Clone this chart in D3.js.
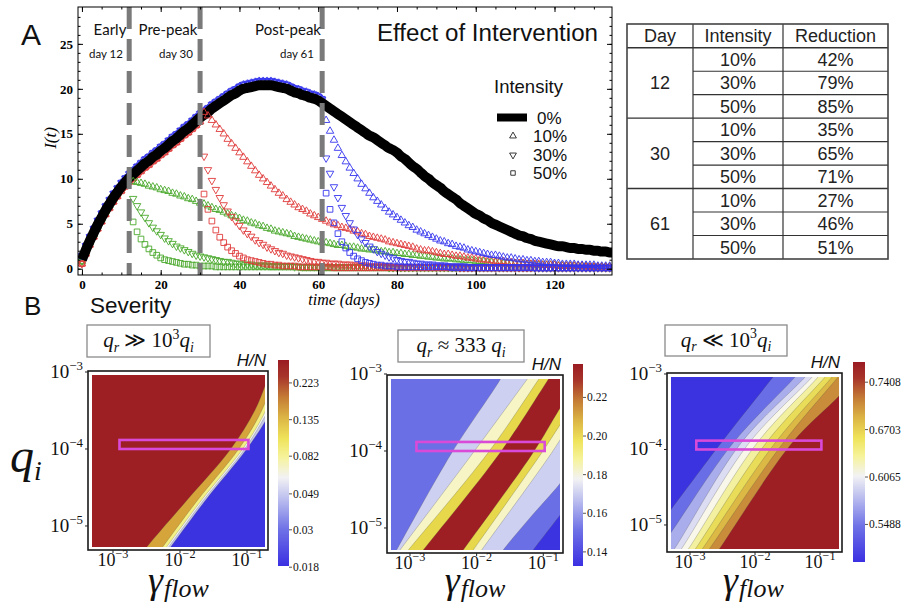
<!DOCTYPE html>
<html>
<head>
<meta charset="utf-8">
<script src="https://cdn.jsdelivr.net/npm/d3@7/dist/d3.min.js"></script>
<style>html,body{margin:0;padding:0;background:#fff;}svg{display:block;}</style>
</head>
<body>
<svg id="chart" width="907" height="603" xmlns="http://www.w3.org/2000/svg"></svg>
<script>
// ================= PANEL A DATA =================
// I(t) without intervention, days 0..135
const baseI = [
 1.0,2.1,3.1,4.0,4.9,5.7,6.5,7.2,7.9,8.5,
 9.1,9.6,10.1,10.5,10.9,11.3,11.7,12.0,12.4,12.7,
 13.1,13.4,13.8,14.2,14.5,14.9,15.3,15.6,16.0,16.4,
 16.8,17.1,17.4,17.8,18.1,18.4,18.7,19.0,19.3,19.5,
 19.8,20.0,20.1,20.2,20.3,20.4,20.4,20.4,20.4,20.3,
 20.2,20.1,20.0,19.8,19.6,19.5,19.3,19.2,19.0,18.9,
 18.7,18.4,18.1,17.8,17.5,17.2,16.9,16.6,16.3,16.0,
 15.7,15.4,15.1,14.8,14.6,14.3,14.0,13.7,13.4,13.2,
 12.9,12.5,12.2,11.8,11.4,11.1,10.7,10.3,10.0,9.6,
 9.3,9.0,8.6,8.3,8.0,7.7,7.3,7.0,6.7,6.4,
 6.1,5.9,5.6,5.4,5.1,4.9,4.7,4.5,4.3,4.1,
 3.9,3.7,3.6,3.4,3.3,3.1,3.0,2.9,2.8,2.7,
 2.6,2.5,2.5,2.4,2.3,2.3,2.2,2.2,2.1,2.1,
 2.0,2.0,1.9,1.9,1.8,1.8];
const interventionDays = [12, 30, 61];
const intensityLabels = ["10%", "30%", "50%"];
// intervention on day 12, values from day 13 to 135
const day12_10 = [
 9.7,9.6,9.5,9.4,9.2,9.1,9.0,8.8,8.7,8.6,
 8.4,8.3,8.1,8.0,7.8,7.7,7.5,7.3,7.2,7.0,
 6.8,6.6,6.5,6.3,6.1,5.9,5.8,5.6,5.4,5.3,
 5.1,5.0,4.8,4.7,4.5,4.4,4.2,4.1,4.0,3.9,
 3.8,3.6,3.5,3.4,3.3,3.2,3.1,3.0,2.9,2.9,
 2.8,2.7,2.6,2.6,2.5,2.4,2.4,2.3,2.2,2.2,
 2.1,2.1,2.0,1.9,1.9,1.8,1.8,1.7,1.7,1.6,
 1.6,1.5,1.5,1.4,1.4,1.3,1.3,1.2,1.2,1.1,
 1.1,1.1,1.0,1.0,0.9,0.9,0.9,0.8,0.8,0.8,
 0.7,0.7,0.7,0.7,0.6,0.6,0.6,0.6,0.5,0.5,
 0.5,0.5,0.4,0.4,0.4,0.4,0.4,0.4,0.3,0.3,
 0.3,0.3,0.3,0.3,0.3,0.3,0.2,0.2,0.2,0.2,0.2,0.2,0.2];
const day12_30 = [
 7.8,7.0,6.3,5.7,5.1,4.6,4.2,3.8,3.4,3.1,
 2.8,2.5,2.3,2.1,1.9,1.7,1.5,1.4,1.3,1.2,
 1.1,1.0,0.9,0.8,0.8,0.7,0.6,0.6,0.5,0.5,
 0.5,0.4,0.4,0.4,0.4,0.3,0.3,0.3,0.3,0.3,
 0.3,0.2,0.2,0.2,0.2,0.2,0.2,0.2,0.2,0.2,
 0.2,0.2,0.2,0.2,0.2,0.2,0.2,0.2,0.2,0.2,
 0.2,0.2,0.2,0.2,0.2,0.1,0.1,0.1,0.1,0.1,
 0.1,0.1,0.1,0.1,0.1,0.1,0.1,0.1,0.1,0.1,
 0.1,0.1,0.1,0.1,0.1,0.1,0.1,0.1,0.1,0.1,
 0.1,0.1,0.1,0.1,0.1,0.1,0.1,0.1,0.1,0.1,
 0.1,0.1,0.1,0.1,0.1,0.1,0.1,0.1,0.1,0.1,
 0.1,0.1,0.1,0.1,0.1,0.1,0.1,0.1,0.1,0.1,
 0.1,0.1,0.1];
const day12_50 = [
 5.2,4.1,3.3,2.7,2.2,1.8,1.5,1.2,1.0,0.9,
 0.8,0.7,0.6,0.5,0.5,0.4,0.4,0.3,0.3,0.3,
 0.3,0.2,0.2,0.2,0.2,0.2,0.2,0.2,0.2,0.2,
 0.2,0.2,0.2,0.2,0.2,0.2,0.2,0.2,0.2,0.2,
 0.2,0.2,0.2,0.1,0.1,0.1,0.1,0.1,0.1,0.1,
 0.1,0.1,0.1,0.1,0.1,0.1,0.1,0.1,0.1,0.1,
 0.1,0.1,0.1,0.1,0.1,0.1,0.1,0.1,0.1,0.1,
 0.1,0.1,0.1,0.1,0.1,0.1,0.1,0.1,0.1,0.1,
 0.1,0.1,0.1,0.1,0.1,0.1,0.1,0.1,0.1,0.1,
 0.1,0.1,0.1,0.1,0.1,0.1,0.1,0.1,0.1,0.1,
 0.1,0.1,0.1,0.1,0.1,0.1,0.1,0.1,0.1,0.1,
 0.1,0.1,0.1,0.1,0.1,0.1,0.1,0.1,0.1,0.1,
 0.1,0.1,0.1];
// intervention on day 30, values from day 31 to 135
const day30_10 = [
 17.4,17.0,16.5,16.0,15.5,15.0,14.4,13.9,13.4,12.9,
 12.4,11.9,11.4,10.9,10.4,10.0,9.6,9.2,8.8,8.4,
 8.1,7.7,7.4,7.1,6.8,6.6,6.4,6.1,5.9,5.7,
 5.5,5.3,5.1,4.9,4.8,4.6,4.5,4.4,4.2,4.1,
 3.9,3.8,3.6,3.5,3.4,3.3,3.2,3.0,2.9,2.8,
 2.7,2.6,2.5,2.4,2.2,2.1,2.0,2.0,1.9,1.8,
 1.7,1.6,1.6,1.5,1.4,1.4,1.3,1.2,1.2,1.1,
 1.0,1.0,0.9,0.9,0.8,0.8,0.8,0.7,0.7,0.6,
 0.6,0.6,0.5,0.5,0.5,0.5,0.4,0.4,0.4,0.4,
 0.3,0.3,0.3,0.3,0.3,0.3,0.3,0.2,0.2,0.2,
 0.2,0.2,0.2,0.2,0.2];
const day30_30 = [
 12.5,11.0,9.8,8.8,7.9,7.1,6.4,5.8,5.3,4.8,
 4.3,3.9,3.6,3.2,2.9,2.7,2.4,2.2,2.0,1.8,
 1.7,1.5,1.4,1.3,1.2,1.1,1.0,0.9,0.8,0.8,
 0.7,0.7,0.6,0.6,0.6,0.5,0.5,0.5,0.4,0.4,
 0.4,0.4,0.3,0.3,0.3,0.3,0.3,0.3,0.2,0.2,
 0.2,0.2,0.2,0.2,0.2,0.2,0.2,0.2,0.2,0.2,
 0.2,0.2,0.2,0.2,0.2,0.1,0.1,0.1,0.1,0.1,
 0.1,0.1,0.1,0.1,0.1,0.1,0.1,0.1,0.1,0.1,
 0.1,0.1,0.1,0.1,0.1,0.1,0.1,0.1,0.1,0.1,
 0.1,0.1,0.1,0.1,0.1,0.1,0.1,0.1,0.1,0.1,
 0.1,0.1,0.1,0.1,0.1];
const day30_50 = [
 8.3,6.6,5.3,4.3,3.5,2.9,2.4,2.0,1.7,1.4,
 1.2,1.0,0.9,0.8,0.7,0.6,0.5,0.5,0.4,0.4,
 0.3,0.3,0.3,0.3,0.2,0.2,0.2,0.2,0.2,0.2,
 0.2,0.2,0.2,0.1,0.1,0.1,0.1,0.1,0.1,0.1,
 0.1,0.1,0.1,0.1,0.1,0.1,0.1,0.1,0.1,0.1,
 0.1,0.1,0.1,0.1,0.1,0.1,0.1,0.1,0.1,0.1,
 0.1,0.1,0.1,0.1,0.1,0.1,0.1,0.1,0.1,0.1,
 0.1,0.1,0.1,0.1,0.1,0.1,0.1,0.1,0.1,0.1,
 0.1,0.1,0.1,0.1,0.1,0.1,0.1,0.1,0.1,0.1,
 0.1,0.1,0.1,0.1,0.1,0.1,0.1,0.1,0.1,0.1,
 0.1,0.1,0.1,0.1,0.1];
// intervention on day 61, values from day 62 to 135
const day61_10 = [
 16.5,15.3,14.3,13.4,12.6,11.9,11.2,10.6,10.0,9.4,
 8.9,8.4,7.9,7.5,7.1,6.7,6.3,6.0,5.7,5.4,
 5.1,4.8,4.6,4.3,4.1,3.9,3.7,3.5,3.3,3.1,
 3.0,2.8,2.7,2.5,2.4,2.3,2.1,2.0,1.9,1.8,
 1.7,1.6,1.5,1.5,1.4,1.3,1.2,1.2,1.1,1.0,
 1.0,0.9,0.9,0.8,0.8,0.7,0.7,0.7,0.6,0.6,
 0.5,0.5,0.5,0.5,0.4,0.4,0.4,0.4,0.4,0.3,
 0.3,0.3,0.3,0.3];
const day61_30 = [
 12.3,10.6,9.1,7.9,6.8,5.9,5.1,4.4,3.8,3.3,
 2.9,2.5,2.2,1.9,1.7,1.5,1.3,1.2,1.0,0.9,
 0.8,0.8,0.7,0.6,0.6,0.5,0.5,0.5,0.4,0.4,
 0.4,0.3,0.3,0.3,0.3,0.3,0.2,0.2,0.2,0.2,
 0.2,0.2,0.2,0.2,0.2,0.2,0.2,0.2,0.2,0.2,
 0.2,0.2,0.2,0.1,0.1,0.1,0.1,0.1,0.1,0.1,
 0.1,0.1,0.1,0.1,0.1,0.1,0.1,0.1,0.1,0.1,
 0.1,0.1,0.1,0.1];
const day61_50 = [
 8.4,6.6,5.1,3.9,3.0,2.3,1.8,1.4,1.1,0.9,
 0.7,0.6,0.5,0.4,0.4,0.3,0.3,0.3,0.2,0.2,
 0.2,0.2,0.2,0.2,0.2,0.2,0.2,0.2,0.2,0.2,
 0.2,0.2,0.1,0.1,0.1,0.1,0.1,0.1,0.1,0.1,
 0.1,0.1,0.1,0.1,0.1,0.1,0.1,0.1,0.1,0.1,
 0.1,0.1,0.1,0.1,0.1,0.1,0.1,0.1,0.1,0.1,
 0.1,0.1,0.1,0.1,0.1,0.1,0.1,0.1,0.1,0.1,
 0.1,0.1,0.1,0.1];
const phaseLabels = ["Early", "Pre-peak", "Post-peak"];
const phaseDayLabels = ["day 12", "day 30", "day 61"];
const xTicksA = [0, 20, 40, 60, 80, 100, 120];
const yTicksA = [0, 5, 10, 15, 20, 25];
const titleA = "Effect of Intervention";
const legendTitle = "Intensity";
const legendLabels = ["0%", "10%", "30%", "50%"];

// ================= TABLE DATA =================
const tableHeader = ["Day", "Intensity", "Reduction"];
const tableDays = ["12", "30", "61"];
const tableIntensity = ["10%", "30%", "50%"];
const tableReduction = [["42%", "79%", "85%"], ["35%", "65%", "71%"], ["27%", "46%", "51%"]];

// ================= PANEL B DATA =================
const gammaTicks = [1e-3, 1e-2, 1e-1];
const qTicks = [1e-3, 1e-4, 1e-5];
const tickExps = {"0.001": "\u22123", "0.01": "\u22122", "0.1": "\u22121", "0.0001": "\u22124", "0.00001": "\u22125"};
const boxLabels = [
 [{t: "q", it: 1}, {t: "r", it: 1, sub: 1}, {t: " \u226B 10"}, {t: "3", sup: 1}, {t: "q", it: 1}, {t: "i", it: 1, sub: 1}],
 [{t: "q", it: 1}, {t: "r", it: 1, sub: 1}, {t: " \u2248 333 "}, {t: "q", it: 1}, {t: "i", it: 1, sub: 1}],
 [{t: "q", it: 1}, {t: "r", it: 1, sub: 1}, {t: " \u226A 10"}, {t: "3", sup: 1}, {t: "q", it: 1}, {t: "i", it: 1, sub: 1}]
];
// contour boundaries as [log10(gamma_flow), log10(q_i)], ordered from upper-left band to lower-right band
const contours1 = [
 [[-2.60,-5.40],[-2.507,-5.286],[-1.894,-4.662],[-1.254,-4.013],[-0.881,-3.494],[-0.687,-3.078],[-0.62,-2.93]],
 [[-2.313,-5.338],[-1.735,-4.662],[-1.134,-4.013],[-0.836,-3.597],[-0.701,-3.338],[-0.627,-3.169]],
 [[-2.254,-5.338],[-1.676,-4.662],[-1.075,-4.013],[-0.776,-3.597],[-0.657,-3.364],[-0.582,-3.208]],
 [[-2.224,-5.338],[-1.646,-4.662],[-1.045,-4.013],[-0.746,-3.597],[-0.627,-3.390],[-0.552,-3.234]],
 [[-2.194,-5.338],[-1.616,-4.662],[-1.015,-4.013],[-0.716,-3.623],[-0.597,-3.416],[-0.507,-3.260]]
];
const contours2 = [
 [[-3.300,-5.442],[-2.375,-4.026],[-1.651,-3.078],[-1.576,-2.948]],
 [[-3.319,-5.481],[-3.150,-5.286],[-2.055,-4.026],[-1.250,-3.078],[-1.118,-2.922]],
 [[-3.210,-5.481],[-3.025,-5.286],[-1.831,-4.026],[-1.076,-3.078],[-0.952,-2.922]],
 [[-2.979,-5.481],[-2.801,-5.286],[-1.651,-4.026],[-0.931,-3.078],[-0.813,-2.922]],
 [[-2.363,-5.481],[-2.201,-5.286],[-1.156,-4.026],[-0.766,-3.468],[-0.601,-3.234]],
 [[-2.210,-5.481],[-2.051,-5.286],[-1.025,-4.026],[-0.766,-3.684],[-0.601,-3.468]],
 [[-2.087,-5.481],[-1.925,-5.286],[-0.876,-4.026],[-0.601,-3.649]],
 [[-1.726,-5.442],[-1.601,-5.286],[-1.201,-4.870],[-0.766,-4.442],[-0.601,-4.247]],
 [[-1.276,-5.442],[-1.151,-5.286],[-0.766,-4.853],[-0.601,-4.675]]
];
const contours3 = [
 [[-3.462,-4.987],[-3.297,-4.801],[-2.523,-3.914],[-1.723,-3.040],[-1.615,-2.921]],
 [[-3.462,-5.305],[-3.297,-5.106],[-2.338,-3.914],[-1.385,-3.040],[-1.277,-2.921]],
 [[-3.385,-5.490],[-3.231,-5.305],[-2.215,-3.914],[-1.231,-3.040],[-1.123,-2.921]],
 [[-3.277,-5.490],[-3.123,-5.305],[-2.092,-3.914],[-1.123,-3.040],[-1.015,-2.921]],
 [[-3.169,-5.490],[-3.015,-5.305],[-1.969,-3.914],[-1.031,-3.040],[-0.923,-2.921]],
 [[-3.062,-5.490],[-2.908,-5.305],[-1.831,-3.914],[-0.923,-3.040],[-0.815,-2.921]],
 [[-2.954,-5.490],[-2.800,-5.305],[-1.692,-3.914],[-0.815,-3.040],[-0.708,-2.921]],
 [[-2.846,-5.490],[-2.692,-5.305],[-1.569,-3.914],[-0.723,-3.040],[-0.615,-2.921]],
 [[-2.692,-5.490],[-2.538,-5.305],[-1.431,-3.914],[-0.692,-3.278],[-0.508,-3.079]]
];
const highlightGamma = [1.25e-3, 0.105];
const highlightQ = [1.0e-4, 1.31e-4];
const cb1Ticks = [0.018, 0.03, 0.049, 0.082, 0.135, 0.223];
const cb1Labels = ["0.018", "0.03", "0.049", "0.082", "0.135", "0.223"];
const cb1Range = [0.0183, 0.305];
const cb2Ticks = [0.14, 0.16, 0.18, 0.20, 0.22];
const cb2Labels = ["0.14", "0.16", "0.18", "0.20", "0.22"];
const cb2Range = [0.1327, 0.2373];
const cb3Ticks = [0.5488, 0.6065, 0.6703, 0.7408];
const cb3Labels = ["0.5488", "0.6065", "0.6703", "0.7408"];
const cb3Range = [0.507, 0.773];

// ================= STYLES =================
const SANS = "'Liberation Sans', Arial, Helvetica, sans-serif";
const SERIF = "'Liberation Serif', 'Times New Roman', 'DejaVu Serif', serif";
const CAL = "Lato, 'Open Sans', sans-serif";
const dayColors = ["#48a82a", "#e03a3a", "#3636ee"];
const preOffset = [1.5, 4, -4];
const bandColors1 = ["#9d1e23", "#d5a43b", "#f4f184", "#f3f3f3", "#c3c6ea", "#3b33e0"];
const bandColors2 = ["#6b6fe5", "#cdd0f0", "#f7f5c6", "#e6d84a", "#9d1e23", "#e6d84a", "#f7f5c6", "#cdd0f0", "#6b6fe5", "#3b33e0"];
const bandColors3 = ["#3b33e0", "#6a6ee6", "#a9adec", "#dcdcf3", "#f8f7ea", "#f3f1a0", "#e8dc58", "#dcb845", "#c98c3a", "#9d1e23"];
const cmapStops = [[0, "#3b30e2"], [0.18, "#6f72e6"], [0.32, "#b9bcee"], [0.43, "#f2f2f4"], [0.53, "#f6f39a"], [0.62, "#efe35a"], [0.72, "#dcb545"], [0.82, "#c47b35"], [0.92, "#a7342a"], [1, "#9a1c22"]];

const svg = d3.select("#chart");
svg.append("rect").attr("width", 907).attr("height", 603).attr("fill", "#fff");
const defs = svg.append("defs");

// ---------- math text helper ----------
function mathText(g, x, y, parts, size, anchor, opt) {
  opt = opt || {};
  const subScale = opt.subScale || 0.66, subShift = opt.subShift || 0.25, supShift = opt.supShift || 0.42;
  const t = g.append("text").attr("x", x).attr("y", y).attr("text-anchor", anchor || "start")
    .attr("font-family", opt.family || SERIF).attr("font-size", size).attr("fill", opt.fill || "#111");
  let cur = 0;
  parts.forEach(p => {
    const target = p.sub ? subShift * size : (p.sup ? -supShift * size : 0);
    const ts = t.append("tspan").text(p.t).attr("dy", target - cur)
      .attr("font-size", (p.sub || p.sup) ? size * subScale : size);
    if (p.it) ts.attr("font-style", "italic");
    cur = target;
  });
  return t;
}

// ================= PANEL A =================
const A = {x0: 78, x1: 612, y0: 7, y1: 275};
const xA = d3.scaleLinear().domain([-1, 134.6]).range([A.x0, A.x1]);
const yA = d3.scaleLinear().domain([-0.7, 29.1]).range([A.y1, A.y0]);
defs.append("clipPath").attr("id", "clipA").append("rect")
  .attr("x", A.x0).attr("y", A.y0).attr("width", A.x1 - A.x0).attr("height", A.y1 - A.y0);
const gA = svg.append("g");
const plotA = gA.append("g").attr("clip-path", "url(#clipA)");

const symTypes = [d3.symbolTriangle, d3.symbolTriangle, d3.symbolSquare];
const symSizes = [24, 24, 32];
const symRot = [0, 180, 0];
const postSeries = [[day12_10, day12_30, day12_50], [day30_10, day30_30, day30_50], [day61_10, day61_30, day61_50]];

function drawMarkers(g, pts, level, color, dy) {
  g.append("g").selectAll("path").data(pts).join("path")
    .attr("d", d3.symbol(symTypes[level], symSizes[level]))
    .attr("transform", d => `translate(${xA(d[0])},${yA(d[1]) + dy}) rotate(${symRot[level]})`)
    .attr("fill", "none").attr("stroke", color).attr("stroke-width", 0.9);
}
interventionDays.forEach((d0, i) => {
  const pre = baseI.slice(0, d0 + 1).map((v, k) => [k, v]);
  [0, 1, 2].forEach(l => drawMarkers(plotA, pre, l, dayColors[i], preOffset[i]));
});
plotA.append("path").datum(baseI.map((v, k) => [k, v]))
  .attr("d", d3.line().x(d => xA(d[0])).y(d => yA(d[1])).curve(d3.curveMonotoneX))
  .attr("fill", "none").attr("stroke", "#000").attr("stroke-width", 10).attr("stroke-linejoin", "round");
interventionDays.forEach((d0, i) => {
  postSeries[i].forEach((vals, l) => {
    drawMarkers(plotA, vals.map((v, k) => [d0 + 1 + k, v]), l, dayColors[i], 0);
  });
});
plotA.selectAll("line.dash").data(interventionDays).join("line").attr("class", "dash")
  .attr("x1", d => xA(d)).attr("x2", d => xA(d)).attr("y1", A.y0).attr("y2", A.y1)
  .attr("stroke", "#7a7a7a").attr("stroke-width", 5).attr("stroke-dasharray", "22 10");

gA.append("rect").attr("x", A.x0).attr("y", A.y0).attr("width", A.x1 - A.x0).attr("height", A.y1 - A.y0)
  .attr("fill", "none").attr("stroke", "#000").attr("stroke-width", 1);
function styleAx(g) {
  g.select(".domain").remove();
  g.selectAll("line").attr("stroke", "#000");
  g.selectAll("text").attr("font-family", SERIF).attr("font-size", 13).attr("fill", "#000").attr("font-weight", "bold");
}
gA.append("g").attr("transform", `translate(0,${A.y1})`)
  .call(d3.axisBottom(xA).tickValues(xTicksA).tickSize(-5).tickPadding(5)).call(styleAx);
gA.append("g").attr("transform", `translate(0,${A.y1})`)
  .call(d3.axisBottom(xA).tickValues(d3.range(0, 135, 5)).tickSize(-2.5).tickFormat("")).call(styleAx);
gA.append("g").attr("transform", `translate(0,${A.y0})`)
  .call(d3.axisTop(xA).tickValues(xTicksA).tickSize(-5).tickFormat("")).call(styleAx);
gA.append("g").attr("transform", `translate(0,${A.y0})`)
  .call(d3.axisTop(xA).tickValues(d3.range(0, 135, 5)).tickSize(-2.5).tickFormat("")).call(styleAx);
gA.append("g").attr("transform", `translate(${A.x0},0)`)
  .call(d3.axisLeft(yA).tickValues(yTicksA).tickSize(-5).tickPadding(5)).call(styleAx);
gA.append("g").attr("transform", `translate(${A.x0},0)`)
  .call(d3.axisLeft(yA).tickValues(d3.range(0, 29, 1)).tickSize(-2.5).tickFormat("")).call(styleAx);
gA.append("g").attr("transform", `translate(${A.x1},0)`)
  .call(d3.axisRight(yA).tickValues(yTicksA).tickSize(-5).tickFormat("")).call(styleAx);
gA.append("g").attr("transform", `translate(${A.x1},0)`)
  .call(d3.axisRight(yA).tickValues(d3.range(0, 29, 1)).tickSize(-2.5).tickFormat("")).call(styleAx);

gA.append("text").attr("transform", "translate(56,138) rotate(-90)").attr("text-anchor", "middle")
  .attr("font-family", SERIF).attr("font-style", "italic").attr("font-size", 17).text("I(t)");
gA.append("text").attr("x", 344).attr("y", 305).attr("text-anchor", "middle")
  .attr("font-family", SERIF).attr("font-style", "italic").attr("font-size", 16).text("time (days)");

const phaseX = [110, 168, 288];
const phaseDayX = [106, 176, 297];
gA.selectAll("text.ph").data(phaseLabels).join("text").attr("class", "ph")
  .attr("x", (d, i) => phaseX[i]).attr("y", 35).attr("text-anchor", "middle")
  .attr("font-family", CAL).attr("font-size", 15).attr("fill", "#111").text(d => d);
gA.selectAll("text.pd").data(phaseDayLabels).join("text").attr("class", "pd")
  .attr("x", (d, i) => phaseDayX[i]).attr("y", 58).attr("text-anchor", "middle")
  .attr("font-family", CAL).attr("font-size", 11.5).attr("fill", "#111").text(d => d);
gA.append("text").attr("x", 377).attr("y", 41).attr("font-family", SANS).attr("font-size", 23)
  .attr("textLength", 221).attr("lengthAdjust", "spacingAndGlyphs").attr("fill", "#111").text(titleA);
gA.append("text").attr("x", 494).attr("y", 93).attr("font-family", SANS).attr("font-size", 18.5)
  .attr("fill", "#111").text(legendTitle);
gA.append("line").attr("x1", 497).attr("x2", 527).attr("y1", 117.5).attr("y2", 117.5)
  .attr("stroke", "#000").attr("stroke-width", 8);
const legY = [117.5, 136, 155, 173];
[0, 1, 2].forEach(l => {
  gA.append("path").attr("d", d3.symbol(symTypes[l], 20)())
    .attr("transform", `translate(513,${legY[l + 1]}) rotate(${symRot[l]})`)
    .attr("fill", "none").attr("stroke", "#222").attr("stroke-width", 0.9);
});
gA.selectAll("text.lg").data(legendLabels).join("text").attr("class", "lg")
  .attr("x", (d, i) => i === 0 ? 537 : 533).attr("y", (d, i) => legY[i] + 6)
  .attr("font-family", SANS).attr("font-size", 17).attr("fill", "#111").text(d => d);

svg.append("text").attr("x", 21).attr("y", 45).attr("font-family", SANS).attr("font-size", 30).attr("fill", "#111").text("A");
svg.append("text").attr("x", 24).attr("y", 315).attr("font-family", SANS).attr("font-size", 26).attr("fill", "#111").text("B");
svg.append("text").attr("x", 90).attr("y", 313).attr("font-family", SANS).attr("font-size", 22.5).attr("fill", "#111").text("Severity");

// ================= TABLE =================
const T = {cols: [627, 693, 783, 888], y0: 24, yH: 47.7, y1: 259};
const rowH = (T.y1 - T.yH) / 9;
const gT = svg.append("g");
const colMid = i => (T.cols[i] + T.cols[i + 1]) / 2;
gT.selectAll("text.h").data(tableHeader).join("text").attr("class", "h")
  .attr("x", (d, i) => colMid(i)).attr("y", T.yH - 5.5).attr("text-anchor", "middle")
  .attr("font-family", SANS).attr("font-size", 18).attr("fill", "#222").text(d => d);
tableDays.forEach((day, gi) => {
  gT.append("text").attr("x", colMid(0)).attr("y", T.yH + (gi * 3 + 1.5) * rowH + 6.5).attr("text-anchor", "middle")
    .attr("font-family", SANS).attr("font-size", 18).attr("fill", "#222").text(day);
  tableIntensity.forEach((it, ri) => {
    const yy = T.yH + (gi * 3 + ri + 0.5) * rowH + 6.5;
    gT.append("text").attr("x", colMid(1)).attr("y", yy).attr("text-anchor", "middle")
      .attr("font-family", SANS).attr("font-size", 18).attr("fill", "#222").text(it);
    gT.append("text").attr("x", colMid(2)).attr("y", yy).attr("text-anchor", "middle")
      .attr("font-family", SANS).attr("font-size", 18).attr("fill", "#222").text(tableReduction[gi][ri]);
  });
});
for (let r = 1; r < 9; r++) {
  const yy = T.yH + r * rowH;
  const full = r % 3 === 0;
  gT.append("line").attr("x1", full ? T.cols[0] : T.cols[1]).attr("x2", T.cols[3]).attr("y1", yy).attr("y2", yy)
    .attr("stroke", "#333").attr("stroke-width", full ? 1.4 : 1.1);
}
gT.append("line").attr("x1", T.cols[0]).attr("x2", T.cols[3]).attr("y1", T.yH).attr("y2", T.yH).attr("stroke", "#333").attr("stroke-width", 1.4);
[1, 2].forEach(c => gT.append("line").attr("x1", T.cols[c]).attr("x2", T.cols[c]).attr("y1", T.y0).attr("y2", T.y1).attr("stroke", "#333").attr("stroke-width", 1.2));
gT.append("rect").attr("x", T.cols[0]).attr("y", T.y0).attr("width", T.cols[3] - T.cols[0]).attr("height", T.y1 - T.y0)
  .attr("fill", "none").attr("stroke", "#444").attr("stroke-width", 1.6);

// ================= PANEL B =================
const grad = (id) => {
  const lg = defs.append("linearGradient").attr("id", id).attr("x1", 0).attr("y1", 1).attr("x2", 0).attr("y2", 0);
  cmapStops.forEach(s => lg.append("stop").attr("offset", s[0]).attr("stop-color", s[1]));
};
const panels = [
  {frame: [88, 371, 268, 550], gExp: [-3.373, -0.687], qExp: [-5.312, -2.987], contours: contours1, colors: bandColors1,
   box: [87, 325, 123, 32], cb: {x0: 278, x1: 289, y0: 360, y1: 566, log: true, range: cb1Range, ticks: cb1Ticks, labels: cb1Labels}},
  {frame: [387, 375, 563, 553], gExp: [-3.345, -0.704], qExp: [-5.325, -3.013], contours: contours2, colors: bandColors2,
   box: [398, 330, 126, 32], cb: {x0: 573, x1: 583, y0: 364, y1: 566, log: false, range: cb2Range, ticks: cb2Ticks, labels: cb2Labels}},
  {frame: [667, 373, 842, 552], gExp: [-3.354, -0.662], qExp: [-5.358, -2.987], contours: contours3, colors: bandColors3,
   box: [665, 325, 122, 31], cb: {x0: 853, x1: 865, y0: 362, y1: 562, log: true, range: cb3Range, ticks: cb3Ticks, labels: cb3Labels}}
];

panels.forEach((P, pi) => {
  const [fx0, fy0, fx1, fy1] = P.frame;
  const xs = d3.scaleLog().domain([10 ** P.gExp[0], 10 ** P.gExp[1]]).range([fx0, fx1]);
  const ys = d3.scaleLog().domain([10 ** P.qExp[0], 10 ** P.qExp[1]]).range([fy1, fy0]);
  const g = svg.append("g");
  const ix0 = fx0 + 4, iy0 = fy0 + 4, ix1 = fx1 - 3, iy1 = fy1 - 3;
  defs.append("clipPath").attr("id", "clipB" + pi).append("rect")
    .attr("x", ix0).attr("y", iy0).attr("width", ix1 - ix0).attr("height", iy1 - iy0);
  const plot = g.append("g").attr("clip-path", `url(#clipB${pi})`);
  plot.append("rect").attr("x", ix0).attr("y", iy0).attr("width", ix1 - ix0).attr("height", iy1 - iy0).attr("fill", P.colors[0]);
  const line = d3.line().x(d => xs(10 ** d[0])).y(d => ys(10 ** d[1])).curve(d3.curveCatmullRom.alpha(0.5));
  P.contours.forEach((c, k) => {
    const first = c[0], last = c[c.length - 1];
    const fxp = xs(10 ** first[0]), lyp = ys(10 ** last[1]);
    const far = 400;
    const d = line(c) + `L${ix1 + far},${lyp}L${ix1 + far},${iy1 + far}L${fxp},${iy1 + far}Z`;
    plot.append("path").attr("d", d).attr("fill", P.colors[k + 1]);
  });
  P.contours.forEach(c => {
    plot.append("path").attr("d", line(c)).attr("fill", "none").attr("stroke", "rgba(70,70,70,0.35)").attr("stroke-width", 0.7);
  });
  g.append("rect").attr("x", xs(highlightGamma[0])).attr("y", ys(highlightQ[1]))
    .attr("width", xs(highlightGamma[1]) - xs(highlightGamma[0])).attr("height", ys(highlightQ[0]) - ys(highlightQ[1]))
    .attr("fill", "none").attr("stroke", "#d94ad9").attr("stroke-width", 2.6);
  g.append("rect").attr("x", fx0).attr("y", fy0).attr("width", fx1 - fx0).attr("height", fy1 - fy0)
    .attr("fill", "none").attr("stroke", "#1a1a1a").attr("stroke-width", 1.6);
  gammaTicks.forEach(v => {
    g.append("line").attr("x1", xs(v)).attr("x2", xs(v)).attr("y1", fy1).attr("y2", fy1 + 3).attr("stroke", "#222");
    mathText(g, xs(v), fy1 + 16, [{t: "10"}, {t: tickExps[String(v)], sup: 1}], 18, "middle", {subScale: 0.68});
  });
  qTicks.forEach(v => {
    g.append("line").attr("x1", fx0 - 3).attr("x2", fx0).attr("y1", ys(v)).attr("y2", ys(v)).attr("stroke", "#222");
    mathText(g, fx0 - 5, ys(v) + 6, [{t: "10"}, {t: tickExps[String(v)], sup: 1}], 19, "end", {subScale: 0.68});
  });
  // gamma_flow label: gamma glyph sits between the tick labels, subscript below "10^-2"
  const gx = xs(1e-2) - 17;
  g.append("text").attr("x", gx).attr("y", 593).attr("text-anchor", "end").attr("font-family", SERIF)
    .attr("font-style", "italic").attr("font-size", 38).attr("fill", "#111").text("\u03B3");
  g.append("text").attr("x", gx + 1).attr("y", 597).attr("font-family", SERIF)
    .attr("font-style", "italic").attr("font-size", 26).attr("fill", "#111").text("flow");
  g.append("text").attr("x", fx1 - 2).attr("y", fy0 - 5).attr("text-anchor", "end").attr("font-family", SANS)
    .attr("font-style", "italic").attr("font-size", 17).attr("fill", "#111").text("H/N");
  const [bx, by, bw, bh] = P.box;
  g.append("rect").attr("x", bx).attr("y", by).attr("width", bw).attr("height", bh).attr("fill", "#fff")
    .attr("stroke", "#8a8a8a").attr("stroke-width", 1.3);
  mathText(g, bx + bw / 2, by + bh / 2 + 6, boxLabels[pi], 21, "middle", {subScale: 0.66, subShift: 0.22, supShift: 0.4});
  const cb = P.cb;
  grad("cbg" + pi);
  const cs = (cb.log ? d3.scaleLog() : d3.scaleLinear()).domain(cb.range).range([cb.y1, cb.y0]);
  g.append("rect").attr("x", cb.x0).attr("y", cb.y0).attr("width", cb.x1 - cb.x0).attr("height", cb.y1 - cb.y0)
    .attr("fill", `url(#cbg${pi})`);
  cb.ticks.forEach((v, i) => {
    g.append("line").attr("x1", cb.x1).attr("x2", cb.x1 + 3).attr("y1", cs(v)).attr("y2", cs(v)).attr("stroke", "#555");
    g.append("text").attr("x", cb.x1 + 4).attr("y", cs(v) + 4).attr("font-family", SERIF).attr("font-size", 11.5)
      .attr("fill", "#111").text(cb.labels[i]);
  });
});
mathText(svg, 10, 472, [{t: "q", it: 1}, {t: "i", it: 1, sub: 1}], 48, "start", {subScale: 0.58, subShift: 0.17});
</script>
</body>
</html>
